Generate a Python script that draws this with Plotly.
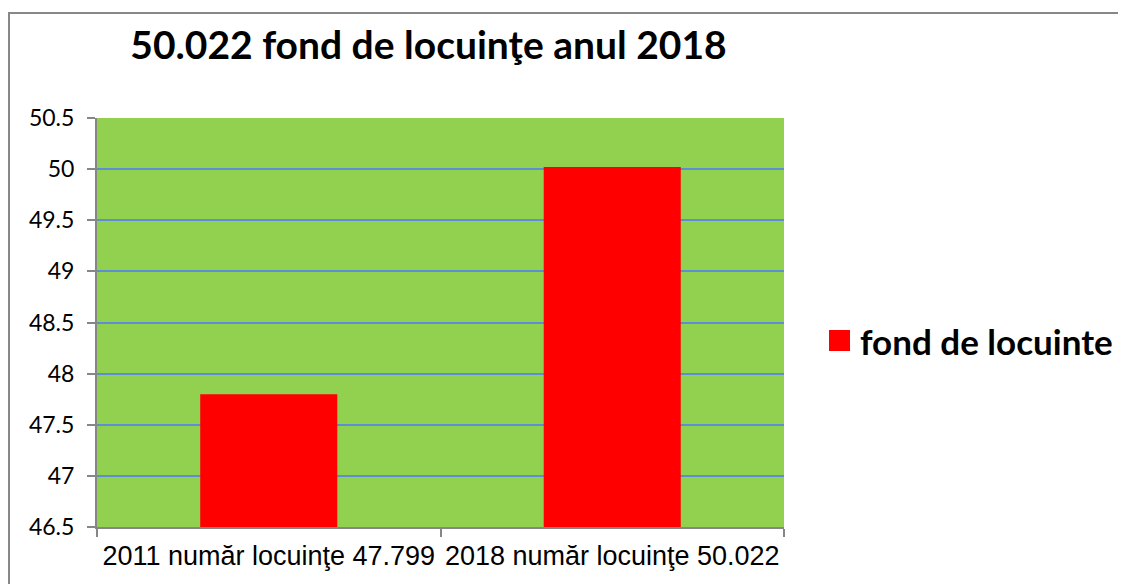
import plotly.graph_objects as go

categories = ["2011 număr locuinţe 47.799", "2018 număr locuinţe 50.022"]
values = [47.799, 50.022]
series_name = "fond de locuinte"
title_text = "50.022 fond de locuinţe anul 2018"
y_ticks = [46.5, 47, 47.5, 48, 48.5, 49, 49.5, 50, 50.5]

OFF = 8  # page body margin offset
W, H = 1126 - OFF, 584 - OFF
L, R, T, B = 97 - OFF, 784 - OFF, 118 - OFF, 527 - OFF  # plot area in figure px


def px(x):
    return (x - OFF - L) / (R - L)


def py(y):
    return (B - (y - OFF)) / (B - T)


fig = go.Figure()
fig.add_trace(go.Bar(
    x=categories, y=values, name=series_name,
    marker=dict(color="#FF0000", line=dict(width=0)),
    showlegend=False,
))

fig.update_layout(
    width=W, height=H,
    margin=dict(l=L, r=W - R, t=T, b=H - B, autoexpand=False),
    paper_bgcolor="white",
    plot_bgcolor="#92D050",
    bargap=0.601,
    title=dict(text="<b>" + title_text + "</b>", xref="container", yref="container",
               x=(428.5 - OFF) / W, y=1 - (45 - OFF) / H, xanchor="center", yanchor="middle",
               font=dict(family="Lato", size=39, color="black")),
    xaxis=dict(
        type="category", showgrid=False, showline=True, linecolor="#868686", linewidth=2,
        ticks="outside", tickson="boundaries", ticklen=8, tickcolor="#868686", tickwidth=2,
        tickfont=dict(family="Liberation Sans", size=27, color="black"),
        tickangle=0, ticklabelstandoff=4,
    ),
    yaxis=dict(
        range=[46.5, 50.5], tickvals=y_ticks, ticktext=[f"{v:g}" for v in y_ticks],
        showgrid=True, gridcolor="#5B8ED6", gridwidth=2,
        showline=True, linecolor="#868686", linewidth=2,
        ticks="outside", ticklen=8, tickcolor="#868686", tickwidth=2,
        tickfont=dict(family="Lato", size=23, color="black"),
        ticklabelstandoff=8, zeroline=False,
    ),
    shapes=[
        # chart border (top and left visible)
        dict(type="rect", xref="paper", yref="paper",
             x0=px(9), x1=px(1126 + 20), y0=py(584 + 20), y1=py(13),
             line=dict(color="#888888", width=2), fillcolor="rgba(0,0,0,0)", layer="below"),
        # legend swatch
        dict(type="rect", xref="paper", yref="paper",
             x0=px(829), x1=px(850), y0=py(351), y1=py(330),
             line=dict(width=0), fillcolor="#FF0000"),
    ],
    annotations=[
        dict(text="<b>" + series_name + "</b>", xref="paper", yref="paper",
             x=px(858), y=py(341), xanchor="left", yanchor="middle", showarrow=False,
             font=dict(family="Lato", size=35, color="black")),
    ],
)

fig.write_html("out.html")
